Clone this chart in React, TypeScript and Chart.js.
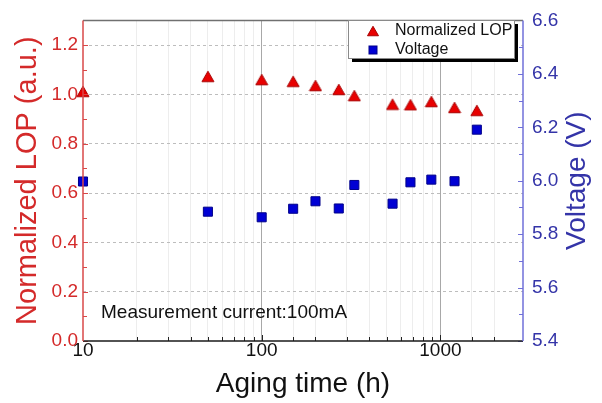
import React, { useEffect, useRef } from 'react';
import { Chart, registerables } from 'chart.js';

Chart.register(...registerables);

// ---- data ----
const agingHours = [10, 50, 100, 150, 200, 270, 330, 540, 680, 890, 1200, 1600];
const normalizedLOP = [1.012, 1.073, 1.06, 1.053, 1.036, 1.02, 0.995, 0.96, 0.958, 0.971, 0.947, 0.935];
const voltage = [5.997, 5.884, 5.863, 5.895, 5.923, 5.896, 5.984, 5.914, 5.994, 6.004, 5.998, 6.191];
const lopTicks = [0, 0.2, 0.4, 0.6, 0.8, 1.0, 1.2];
const voltTicks = [5.4, 5.6, 5.8, 6.0, 6.2, 6.4, 6.6];
const timeLabels = [10, 100, 1000];
const lopMinorTicks = [0.1, 0.3, 0.5, 0.7, 0.9, 1.1, 1.3];
const voltMinorTicks = [5.5, 5.7, 5.9, 6.1, 6.3, 6.5];

const FONT = "'Liberation Sans', Arial, sans-serif";
const LEFT_TEXT = '#d42a2a';
const LEFT_AXIS = '#d84848';
const RIGHT_TEXT = '#3434a8';
const RIGHT_AXIS = '#6f6fd8';
const TRI_FILL = '#e80000';
const TRI_EDGE = '#a80000';
const SQ_FILL = '#0000d4';
const SQ_EDGE = '#00008a';

function pathTriangle(ctx: CanvasRenderingContext2D, cx: number, cy: number, w: number, h: number) {
  ctx.beginPath();
  ctx.moveTo(cx, cy - h / 2);
  ctx.lineTo(cx + w / 2, cy + h / 2);
  ctx.lineTo(cx - w / 2, cy + h / 2);
  ctx.closePath();
}

function drawTriangle(ctx: CanvasRenderingContext2D, x: number, y: number, w: number, h: number) {
  pathTriangle(ctx, x, y, w, h);
  ctx.fillStyle = TRI_FILL;
  ctx.strokeStyle = TRI_EDGE;
  ctx.lineWidth = 1;
  ctx.fill();
  ctx.stroke();
}

function makeTriangleImage(): HTMLCanvasElement {
  const c = document.createElement('canvas');
  c.width = 14;
  c.height = 13;
  const g = c.getContext('2d') as CanvasRenderingContext2D;
  drawTriangle(g, 7, 6.5, 12, 10.5);
  return c;
}

function drawSquare(ctx: CanvasRenderingContext2D, x: number, y: number, half: number) {
  ctx.fillStyle = SQ_FILL;
  ctx.strokeStyle = SQ_EDGE;
  ctx.lineWidth = 1;
  ctx.fillRect(x - half, y - half, half * 2, half * 2);
  ctx.strokeRect(x - half, y - half, half * 2, half * 2);
}

const decorPlugin = {
  id: 'decor',
  afterDatasetsDraw(chart: any) {
    const { ctx, chartArea: a, scales } = chart;
    const xs = scales.x;
    const yL = scales.yL;
    const yR = scales.yR;
    ctx.save();
    ctx.lineWidth = 1;

    ctx.strokeStyle = LEFT_AXIS;
    lopTicks.concat(lopMinorTicks).forEach((v) => {
      const y = Math.round(yL.getPixelForValue(v)) + 0.5;
      const len = lopTicks.includes(v) ? 5 : 4;
      ctx.beginPath();
      ctx.moveTo(a.left, y);
      ctx.lineTo(a.left + len, y);
      ctx.stroke();
    });

    ctx.strokeStyle = RIGHT_AXIS;
    voltTicks.concat(voltMinorTicks).forEach((v) => {
      const y = Math.round(yR.getPixelForValue(v)) + 0.5;
      const len = voltTicks.includes(v) ? 5 : 4;
      ctx.beginPath();
      ctx.moveTo(a.right, y);
      ctx.lineTo(a.right - len, y);
      ctx.stroke();
    });

    ctx.strokeStyle = '#222';
    xs.ticks.forEach((t: any) => {
      if (t.value <= xs.min || t.value >= xs.max) return;
      const x = Math.round(xs.getPixelForValue(t.value)) + 0.5;
      const len = timeLabels.includes(t.value) ? 6 : 4;
      ctx.beginPath();
      ctx.moveTo(x, a.bottom);
      ctx.lineTo(x, a.bottom - len);
      ctx.stroke();
    });

    ctx.lineWidth = 1.5;
    ctx.strokeStyle = '#707070';
    ctx.beginPath();
    ctx.moveTo(a.left, a.top);
    ctx.lineTo(a.right, a.top);
    ctx.stroke();
    ctx.strokeStyle = '#1a1a1a';
    ctx.beginPath();
    ctx.moveTo(a.left, a.bottom);
    ctx.lineTo(a.right, a.bottom);
    ctx.stroke();
    ctx.strokeStyle = LEFT_AXIS;
    ctx.beginPath();
    ctx.moveTo(a.left, a.top);
    ctx.lineTo(a.left, a.bottom);
    ctx.stroke();
    ctx.strokeStyle = RIGHT_AXIS;
    ctx.beginPath();
    ctx.moveTo(a.right, a.top);
    ctx.lineTo(a.right, a.bottom);
    ctx.stroke();
    ctx.restore();
  },
  afterDraw(chart: any) {
    const { ctx, chartArea: a } = chart;
    ctx.save();

    ctx.fillStyle = '#111';
    ctx.font = `19px ${FONT}`;
    ctx.textAlign = 'left';
    ctx.textBaseline = 'middle';
    ctx.fillText('Measurement current:100mA', a.left + 18, 313);

    ctx.save();
    ctx.translate(577, (a.top + a.bottom) / 2);
    ctx.rotate(-Math.PI / 2);
    ctx.fillStyle = RIGHT_TEXT;
    ctx.font = `28px ${FONT}`;
    ctx.textAlign = 'center';
    ctx.textBaseline = 'middle';
    ctx.fillText('Voltage (V)', 0, 0);
    ctx.restore();

    const bx = 348, by = 20, bw = 166, bh = 38;
    ctx.fillStyle = '#000';
    ctx.fillRect(bx + 4, by + 4, bw, bh);
    ctx.fillStyle = '#fff';
    ctx.fillRect(bx, by, bw, bh);
    ctx.strokeStyle = '#8a8a8a';
    ctx.lineWidth = 1;
    ctx.strokeRect(bx + 0.5, by + 0.5, bw, bh);

    drawTriangle(ctx, 373, 31, 11, 9.5);
    drawSquare(ctx, 373, 50, 4);
    ctx.fillStyle = '#111';
    ctx.font = `16px ${FONT}`;
    ctx.textAlign = 'left';
    ctx.textBaseline = 'middle';
    ctx.fillText('Normalized LOP', 395, 31);
    ctx.fillText('Voltage', 395, 50);
    ctx.restore();
  },
};

export default function App() {
  const canvasRef = useRef<HTMLCanvasElement | null>(null);

  useEffect(() => {
    if (!canvasRef.current) return;
    const triImg = makeTriangleImage();
    const chart = new Chart(canvasRef.current, {
      type: 'scatter',
      data: {
        datasets: [
          {
            label: 'Normalized LOP',
            data: agingHours.map((x, i) => ({ x, y: normalizedLOP[i] })),
            yAxisID: 'yL',
            pointStyle: triImg,
            pointRadius: 7,
            pointHoverRadius: 7,
            backgroundColor: TRI_FILL,
            borderColor: TRI_EDGE,
            borderWidth: 1,
            clip: false,
          } as any,
          {
            label: 'Voltage',
            data: agingHours.map((x, i) => ({ x, y: voltage[i] })),
            yAxisID: 'yR',
            pointStyle: 'rect',
            pointRadius: 6.4,
            pointHoverRadius: 6.4,
            backgroundColor: SQ_FILL,
            borderColor: SQ_EDGE,
            borderWidth: 1,
            clip: false,
          } as any,
        ],
      },
      options: {
        responsive: false,
        animation: false,
        layout: { padding: { top: 16, left: 0, right: 0, bottom: 0 } },
        plugins: {
          legend: { display: false },
          tooltip: { enabled: false },
        },
        scales: {
          x: {
            type: 'logarithmic',
            position: 'bottom',
            min: 10,
            max: 2900,
            afterFit: (s: any) => {
              s.height = 62;
            },
            grid: {
              drawTicks: false,
              lineWidth: 1,
              color: (c: any) => {
                const v = c.tick ? c.tick.value : 0;
                if (v <= 10 || v >= 2900) return 'rgba(0,0,0,0)';
                if (v === 100 || v === 1000) return '#a8a8a8';
                return '#ededed';
              },
            },
            border: { display: false },
            ticks: {
              autoSkip: false,
              maxRotation: 0,
              minRotation: 0,
              padding: -2,
              color: '#111',
              font: { family: FONT, size: 19 },
              callback: (v: any) => (timeLabels.includes(Number(v)) ? String(v) : ''),
            },
            title: {
              display: true,
              text: 'Aging time (h)',
              color: '#111',
              font: { family: FONT, size: 28, lineHeight: 1 },
              padding: { top: 0, bottom: 5 },
            },
          },
          yL: {
            type: 'linear',
            position: 'left',
            min: 0,
            max: 1.3,
            afterFit: (s: any) => {
              s.width = 83;
            },
            afterBuildTicks: (s: any) => {
              s.ticks = lopTicks.map((v) => ({ value: v }));
            },
            grid: {
              drawTicks: false,
              lineWidth: 1,
              color: (c: any) => (c.tick && c.tick.value === 0 ? 'rgba(0,0,0,0)' : '#bdbdbd'),
            },
            border: { display: false, dash: [3, 3] },
            ticks: {
              padding: 5,
              color: LEFT_TEXT,
              font: { family: FONT, size: 19 },
              callback: (v: any) => Number(v).toFixed(1),
            },
            title: {
              display: true,
              text: 'Normalized LOP (a.u.)',
              color: LEFT_TEXT,
              font: { family: FONT, size: 29, lineHeight: 1 },
              padding: { top: 13, bottom: 0 },
            },
          },
          yR: {
            type: 'linear',
            position: 'right',
            min: 5.4,
            max: 6.6,
            afterFit: (s: any) => {
              s.width = 79;
            },
            afterBuildTicks: (s: any) => {
              s.ticks = voltTicks.map((v) => ({ value: v }));
            },
            grid: { drawOnChartArea: false, drawTicks: false },
            border: { display: false },
            ticks: {
              padding: 9,
              color: RIGHT_TEXT,
              font: { family: FONT, size: 19 },
              callback: (v: any) => Number(v).toFixed(1),
            },
          },
        },
      } as any,
      plugins: [decorPlugin],
    });
    return () => chart.destroy();
  }, []);

  return (
    <div style={{ position: 'absolute', left: 0, top: 0, width: 602, height: 403, background: '#fff' }}>
      <canvas ref={canvasRef} width={602} height={403} style={{ display: 'block' }} />
    </div>
  );
}
